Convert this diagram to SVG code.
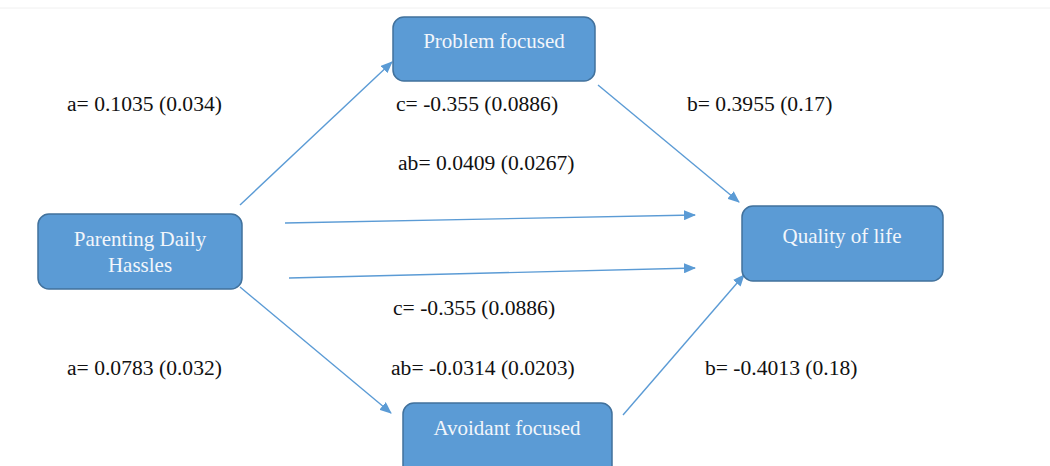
<svg xmlns="http://www.w3.org/2000/svg" width="1050" height="466" viewBox="0 0 1050 466">
<style>
.box{fill:#5b9bd5;stroke:#41719c;stroke-width:1.5}
.nt{font-size:21px;fill:#f2f6fb;text-anchor:middle}
.lb{font-size:21.6px;fill:#111}
.cn{stroke:#5b9bd5;stroke-width:1.4;fill:none;marker-end:url(#ah)}
</style>
<defs>
<marker id="ah" viewBox="0 0 12 10" refX="11" refY="5" markerWidth="12" markerHeight="10" markerUnits="userSpaceOnUse" orient="auto">
<path d="M0,0 L12,5 L0,10 Z" fill="#5b9bd5"/>
</marker>
</defs>
<rect width="1050" height="466" fill="#ffffff"/>
<line x1="0" y1="8" x2="1050" y2="8" stroke="#f0f0f0" stroke-width="1"/>
<g id="connectors">
<line class="cn" x1="240" y1="205" x2="392" y2="62"/>
<line class="cn" x1="598" y1="85" x2="739" y2="202"/>
<line class="cn" x1="285" y1="223" x2="695" y2="215"/>
<line class="cn" x1="289" y1="278" x2="695" y2="268"/>
<line class="cn" x1="240" y1="287" x2="391" y2="413"/>
<line class="cn" x1="623" y1="415" x2="744" y2="275"/>
</g>
<g font-family="'Liberation Serif', 'DejaVu Serif', 'Times New Roman', serif">
<g id="problem">
<rect class="box" x="393" y="17" width="202" height="64" rx="11"/>
<text class="nt" x="494" y="48">Problem focused</text>
</g>
<g id="parenting">
<rect class="box" x="38" y="214" width="204" height="75" rx="11"/>
<text class="nt" x="140" y="246">Parenting Daily</text>
<text class="nt" x="140" y="272">Hassles</text>
</g>
<g id="quality">
<rect class="box" x="742" y="206" width="201" height="75" rx="11"/>
<text class="nt" x="842" y="243">Quality of life</text>
</g>
<g id="avoidant">
<rect class="box" x="403" y="403" width="209" height="75" rx="11"/>
<text class="nt" x="507" y="435">Avoidant focused</text>
</g>
<g id="labels">
<text class="lb" x="67" y="111">a= 0.1035 (0.034)</text>
<text class="lb" x="396" y="111">c= -0.355 (0.0886)</text>
<text class="lb" x="687" y="111">b= 0.3955 (0.17)</text>
<text class="lb" x="398" y="170">ab= 0.0409 (0.0267)</text>
<text class="lb" x="393" y="315">c= -0.355 (0.0886)</text>
<text class="lb" x="67" y="375">a= 0.0783 (0.032)</text>
<text class="lb" x="391" y="375">ab= -0.0314 (0.0203)</text>
<text class="lb" x="705" y="375">b= -0.4013 (0.18)</text>
</g>
</g>
</svg>
